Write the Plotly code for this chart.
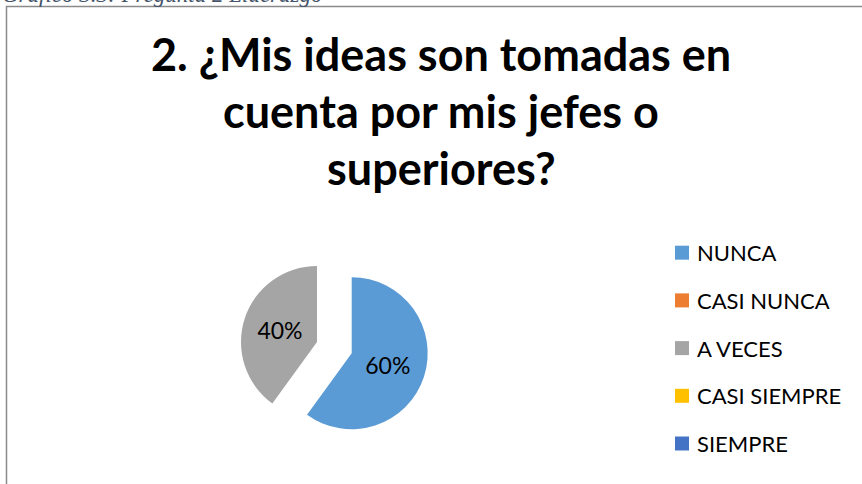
import plotly.graph_objects as go

W, H = 862, 484

categories = ["NUNCA", "CASI NUNCA", "A VECES", "CASI SIEMPRE", "SIEMPRE"]
shares = [60, 0, 40, 0, 0]
colors = ["#5B9BD5", "#ED7D31", "#A5A5A5", "#FFC000", "#4472C4"]
pulls = [0.48, 0, 0, 0, 0]

title_lines = ["2. ¿Mis ideas son tomadas en", "cuenta por mis jefes o", "superiores?"]
caption = "Gráfico 3.3: Pregunta 2 Liderazgo"


def px_x(x):
    return x / W


def px_y(y):
    return 1 - y / H


# pie box (pixels): centre of the unpulled slice at (317, 342), radius ~76
cx, cy, r = 317, 342, 76
half = r * (1 + max(pulls))

fig = go.Figure(
    go.Pie(
        labels=categories,
        values=shares,
        marker=dict(colors=colors, line=dict(width=0)),
        pull=pulls,
        sort=False,
        direction="clockwise",
        rotation=0,
        textinfo="percent",
        texttemplate="%{percent:.0%}",
        textposition="inside",
        insidetextorientation="horizontal",
        textfont=dict(family="Lato", size=23, color="#000000"),
        domain=dict(x=[px_x(cx - half), px_x(cx + half)],
                    y=[px_y(cy + half), px_y(cy - half)]),
        showlegend=False,
        hoverinfo="label+percent",
    )
)

annotations = []
shapes = []

# caption above the chart frame
annotations.append(dict(
    text="<i>" + caption + "</i>", x=0, y=1, xref="paper", yref="paper",
    xanchor="left", yanchor="bottom", yshift=-9, showarrow=False,
    font=dict(family="Liberation Serif", size=23, color="#44546A"),
))

# chart title, one line per annotation
title_baselines = [76, 133, 190]
for line, base in zip(title_lines, title_baselines):
    annotations.append(dict(
        text="<b>" + line + "</b>", x=px_x(441), y=px_y(base - 22),
        xref="paper", yref="paper", xanchor="center", yanchor="middle",
        showarrow=False, font=dict(family="Lato", size=45, color="#000000"),
    ))

# legend: colour square + label per category
legend_top, legend_step = 252.7, 47.7
for i, (cat, col) in enumerate(zip(categories, colors)):
    yc = legend_top + i * legend_step
    shapes.append(dict(
        type="rect", xref="paper", yref="paper",
        x0=px_x(675), x1=px_x(689), y0=px_y(yc + 7), y1=px_y(yc - 7),
        fillcolor=col, line=dict(width=0),
    ))
    annotations.append(dict(
        text=cat, x=px_x(695), y=px_y(yc), xref="paper", yref="paper",
        xanchor="left", yanchor="middle", showarrow=False,
        font=dict(family="Lato", size=22, color="#000000"),
    ))

# chart frame
shapes.append(dict(
    type="rect", xref="paper", yref="paper",
    x0=px_x(6.5), x1=1.02, y0=-0.02, y1=px_y(6.5),
    line=dict(color="#8A8A8A", width=1.5), fillcolor="rgba(0,0,0,0)",
))

fig.update_layout(
    width=W, height=H, autosize=False,
    margin=dict(l=0, r=0, t=0, b=0),
    paper_bgcolor="#FFFFFF", plot_bgcolor="#FFFFFF",
    annotations=annotations, shapes=shapes,
)

fig.write_html("out.html")
